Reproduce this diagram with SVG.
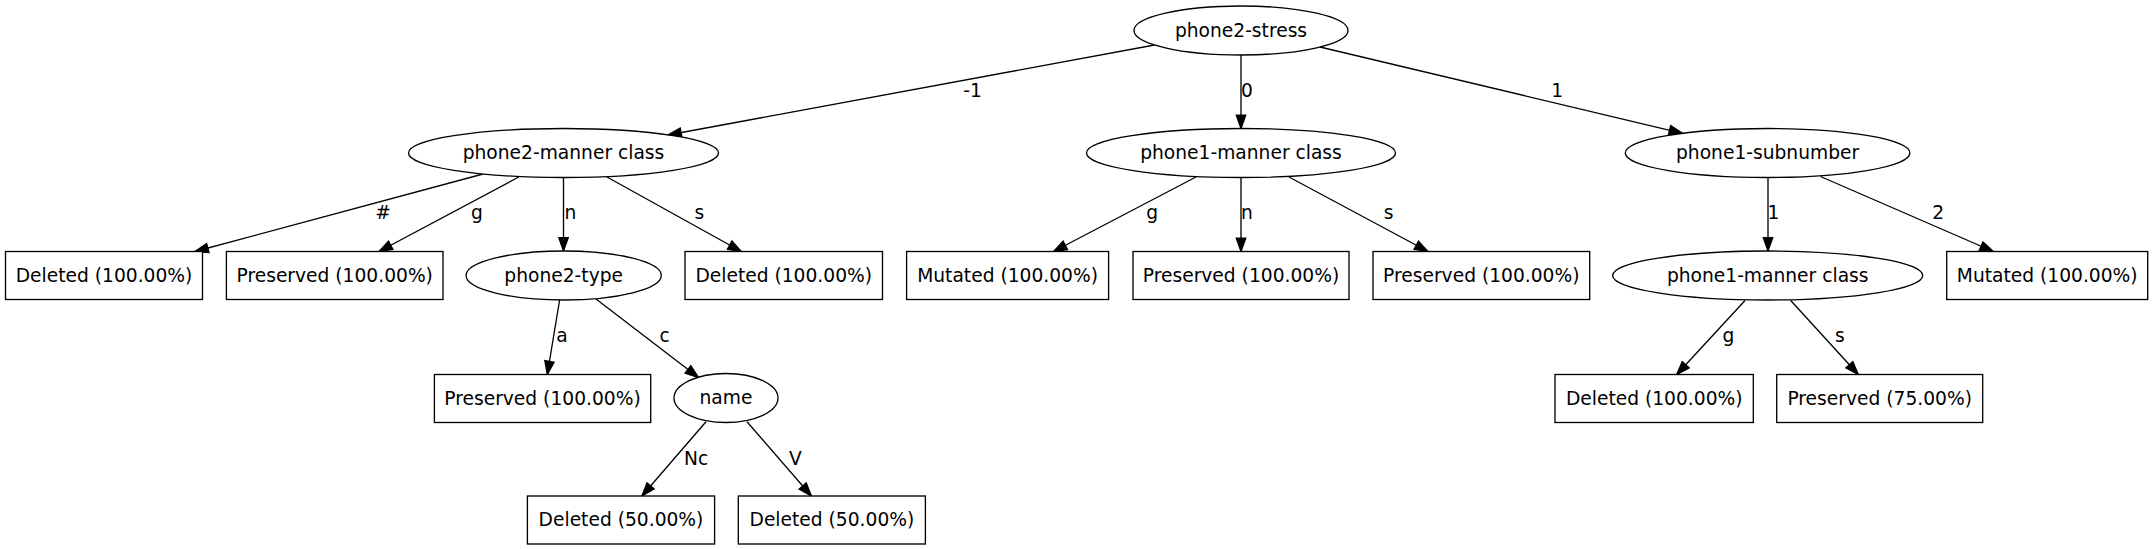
<svg xmlns="http://www.w3.org/2000/svg" width="2155" height="549" viewBox="0 0 2155 549">
<style>
.n ellipse, .n rect { fill: #ffffff; stroke: #000000; stroke-width: 1.33; }
text { font-family: "DejaVu Sans", "Liberation Sans", sans-serif; font-size: 18.67px; fill: #000000; text-anchor: middle; }
.e line { stroke: #000000; stroke-width: 1.33; fill: none; marker-end: url(#arr); }
</style>
<defs>
<marker id="arr" markerUnits="userSpaceOnUse" markerWidth="16" markerHeight="12" refX="13.3" refY="4.7" orient="auto" overflow="visible">
<path d="M0,0 L13.3,4.7 L0,9.4 Z" fill="#000000" stroke="#000000" stroke-width="1.33"/>
</marker>
</defs>
<rect x="0" y="0" width="2155" height="549" fill="#ffffff"/>
<g id="edges" class="e">
<line x1="1154.5" y1="45" x2="668" y2="135"/>
<line x1="1241" y1="55" x2="1241" y2="128.5"/>
<line x1="1320" y1="47" x2="1682.5" y2="133.3"/>
<line x1="483" y1="174" x2="195" y2="251.5"/>
<line x1="518.8" y1="177" x2="379" y2="251.5"/>
<line x1="563.5" y1="177.5" x2="563.5" y2="251"/>
<line x1="607" y1="177" x2="741.3" y2="251.5"/>
<line x1="1196" y1="177" x2="1053.5" y2="251.5"/>
<line x1="1241" y1="177.5" x2="1241" y2="251.5"/>
<line x1="1289" y1="177" x2="1428" y2="251.5"/>
<line x1="1768" y1="177.5" x2="1768" y2="251"/>
<line x1="1820.5" y1="176.5" x2="1993.3" y2="251.5"/>
<line x1="559.6" y1="300" x2="547.3" y2="374.5"/>
<line x1="596" y1="299" x2="698.5" y2="377.5"/>
<line x1="706" y1="421.7" x2="641.9" y2="496"/>
<line x1="747" y1="421.7" x2="811.4" y2="496"/>
<line x1="1745" y1="300.5" x2="1676.7" y2="374.5"/>
<line x1="1790.7" y1="300.5" x2="1858.3" y2="374.5"/>
</g>
<g id="edge-labels">
<text x="972.5" y="97">-1</text>
<text x="1247" y="97">0</text>
<text x="1557.3" y="97">1</text>
<text x="383" y="219">#</text>
<text x="476.8" y="219">g</text>
<text x="570.5" y="219">n</text>
<text x="699.3" y="219">s</text>
<text x="1152.2" y="219">g</text>
<text x="1247" y="219">n</text>
<text x="1388.7" y="219">s</text>
<text x="1773.5" y="219">1</text>
<text x="1938.3" y="219">2</text>
<text x="561.9" y="342">a</text>
<text x="664.6" y="342">c</text>
<text x="1728.3" y="342">g</text>
<text x="1839.8" y="342">s</text>
<text x="696.2" y="465">Nc</text>
<text x="795.5" y="465">V</text>
</g>
<g id="n_root" class="n"><ellipse cx="1241" cy="30.5" rx="107" ry="24.5"/><text x="1241" y="36.8">phone2-stress</text></g>
<g id="n_p2manner" class="n"><ellipse cx="563.5" cy="153" rx="155" ry="24.5"/><text x="563.5" y="159.3">phone2-manner class</text></g>
<g id="n_p1manner" class="n"><ellipse cx="1241" cy="153" rx="154.5" ry="24.5"/><text x="1241" y="159.3">phone1-manner class</text></g>
<g id="n_p1sub" class="n"><ellipse cx="1767.6" cy="153" rx="142.3" ry="24.5"/><text x="1767.6" y="159.3">phone1-subnumber</text></g>
<g id="n_del1" class="n"><rect x="5.5" y="251.5" width="197" height="48"/><text x="104" y="281.8">Deleted (100.00%)</text></g>
<g id="n_pre1" class="n"><rect x="226.4" y="251.5" width="216.6" height="48"/><text x="334.7" y="281.8">Preserved (100.00%)</text></g>
<g id="n_p2type" class="n"><ellipse cx="563.7" cy="275.5" rx="97.6" ry="24.5"/><text x="563.7" y="281.8">phone2-type</text></g>
<g id="n_del2" class="n"><rect x="685" y="251.5" width="197.5" height="48"/><text x="783.7" y="281.8">Deleted (100.00%)</text></g>
<g id="n_mut1" class="n"><rect x="906.6" y="251.5" width="202" height="48"/><text x="1007.6" y="281.8">Mutated (100.00%)</text></g>
<g id="n_pre2" class="n"><rect x="1133" y="251.5" width="216" height="48"/><text x="1241" y="281.8">Preserved (100.00%)</text></g>
<g id="n_pre3" class="n"><rect x="1373" y="251.5" width="216.7" height="48"/><text x="1481.3" y="281.8">Preserved (100.00%)</text></g>
<g id="n_p1manner2" class="n"><ellipse cx="1767.7" cy="275.5" rx="155" ry="24.5"/><text x="1767.7" y="281.8">phone1-manner class</text></g>
<g id="n_mut2" class="n"><rect x="1946.7" y="251.5" width="201" height="48"/><text x="2047.2" y="281.8">Mutated (100.00%)</text></g>
<g id="n_pre4" class="n"><rect x="434.4" y="374.5" width="216.3" height="48"/><text x="542.5" y="404.8">Preserved (100.00%)</text></g>
<g id="n_name" class="n"><ellipse cx="726" cy="398" rx="52" ry="24.5"/><text x="726" y="404.3">name</text></g>
<g id="n_del3" class="n"><rect x="1555" y="374.5" width="198.3" height="48"/><text x="1654.2" y="404.8">Deleted (100.00%)</text></g>
<g id="n_pre5" class="n"><rect x="1776.7" y="374.5" width="206" height="48"/><text x="1879.7" y="404.8">Preserved (75.00%)</text></g>
<g id="n_del4" class="n"><rect x="527.4" y="496" width="187.2" height="48"/><text x="621" y="526.3">Deleted (50.00%)</text></g>
<g id="n_del5" class="n"><rect x="738.3" y="496" width="187.1" height="48"/><text x="831.9" y="526.3">Deleted (50.00%)</text></g>
</svg>
